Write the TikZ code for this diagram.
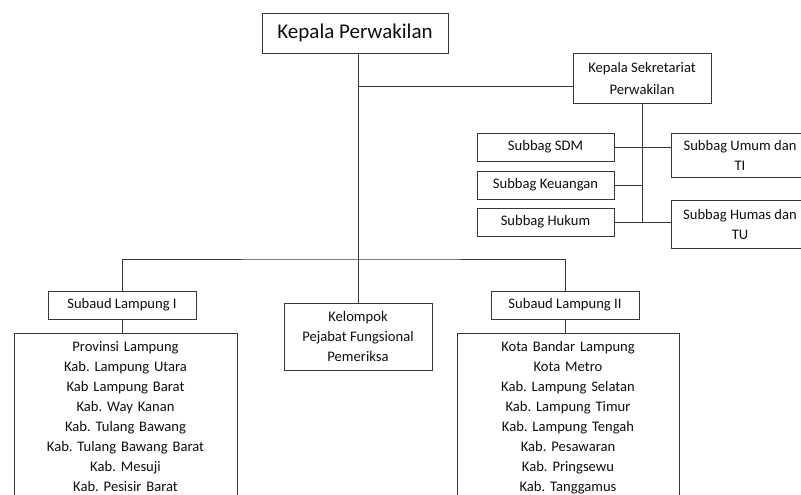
\documentclass[tikz,border=0pt]{standalone}
\usepackage{fontspec}
\setmainfont{Carlito}
\usepackage{tikz}
\usetikzlibrary{positioning, calc}
\frenchspacing
\definecolor{orgLine}{RGB}{55, 55, 55}
\definecolor{orgText}{RGB}{15, 15, 15}
\tikzset{
    base/.style={
        font=\fontsize{14.6}{20}\selectfont,
        align=center,
        text=orgText
    },
    unitbox/.style={
        base,
        rectangle,
        draw=orgLine,
        line width=0.9pt,
        fill=white,
        inner sep=0pt
    },
    listbox/.style={
        unitbox,
        anchor=north,
        inner xsep=0pt,
        inner ysep=8pt
    },
    link/.style={
        line width=0.9pt,
        color=orgLine
    }
}

\begin{document}
\begin{tikzpicture}[x=1pt, y=-1pt]
  \clip (0,0) rectangle (801,495);
  \fill[white] (0,0) rectangle (801,495);

  % Top level
  \node[unitbox, minimum width=186pt, minimum height=40pt,
        font=\fontsize{21}{24}\selectfont] (kepala) at (355,33) {Kepala Perwakilan};

  % Secretariat
  \node[unitbox, minimum width=138pt, minimum height=50pt,
        font=\fontsize{14.6}{22}\selectfont] (sekr) at (642,78) {Kepala Sekretariat\\Perwakilan};
  \node[unitbox, minimum width=137pt, minimum height=28pt] (sdm) at (545.5,147) {Subbag SDM};
  \node[unitbox, minimum width=137pt, minimum height=28pt] (keu) at (545.5,185) {Subbag Keuangan};
  \node[unitbox, minimum width=137pt, minimum height=28pt] (hukum) at (545.5,222) {Subbag Hukum};
  \node[unitbox, minimum width=138pt, minimum height=44pt] (umum) at (740,155) {Subbag Umum dan\\TI};
  \node[unitbox, minimum width=138pt, minimum height=48pt] (humas) at (740,224) {Subbag Humas dan\\TU};

  % Audit units
  \node[unitbox, minimum width=148pt, minimum height=28pt] (sub1) at (122,305) {Subaud Lampung I};
  \node[unitbox, minimum width=148pt, minimum height=67pt] (kelompok) at (358,336.5) {Kelompok\\Pejabat Fungsional\\Pemeriksa};
  \node[unitbox, minimum width=148pt, minimum height=28pt] (sub2) at (565,305) {Subaud Lampung II};

  \node[listbox, text width=223pt] (list1) at (125.5,333) {Provinsi Lampung\\Kab. Lampung Utara\\Kab Lampung Barat\\Kab. Way Kanan\\Kab. Tulang Bawang\\Kab. Tulang Bawang Barat\\Kab. Mesuji\\Kab. Pesisir Barat};
  \node[listbox, text width=222pt] (list2) at (568,333) {Kota Bandar Lampung\\Kota Metro\\Kab. Lampung Selatan\\Kab. Lampung Timur\\Kab. Lampung Tengah\\Kab. Pesawaran\\Kab. Pringsewu\\Kab. Tanggamus};

  % Junctions
  \coordinate (split) at (358,86);
  \coordinate (branch) at (358,259);

  % Connectors
  \draw[link] (kelompok.north |- kepala.south) -- (kelompok.north);
  \draw[link] (split) -- (split -| sekr.west);
  \draw[link] (sekr.south) -- (sekr.south |- hukum.east);
  \draw[link] (sdm.east) -- (sdm.east -| umum.west);
  \draw[link] (keu.east) -- (keu.east -| sekr.south);
  \draw[link] (hukum.east) -- (hukum.east -| humas.west);
  \draw[link] (sub1.north) |- (branch) -| (sub2.north);
  \draw[link] (sub1.south) -- (sub1.south |- list1.north);
  \draw[link] (sub2.south) -- (sub2.south |- list2.north);
\end{tikzpicture}
\end{document}
